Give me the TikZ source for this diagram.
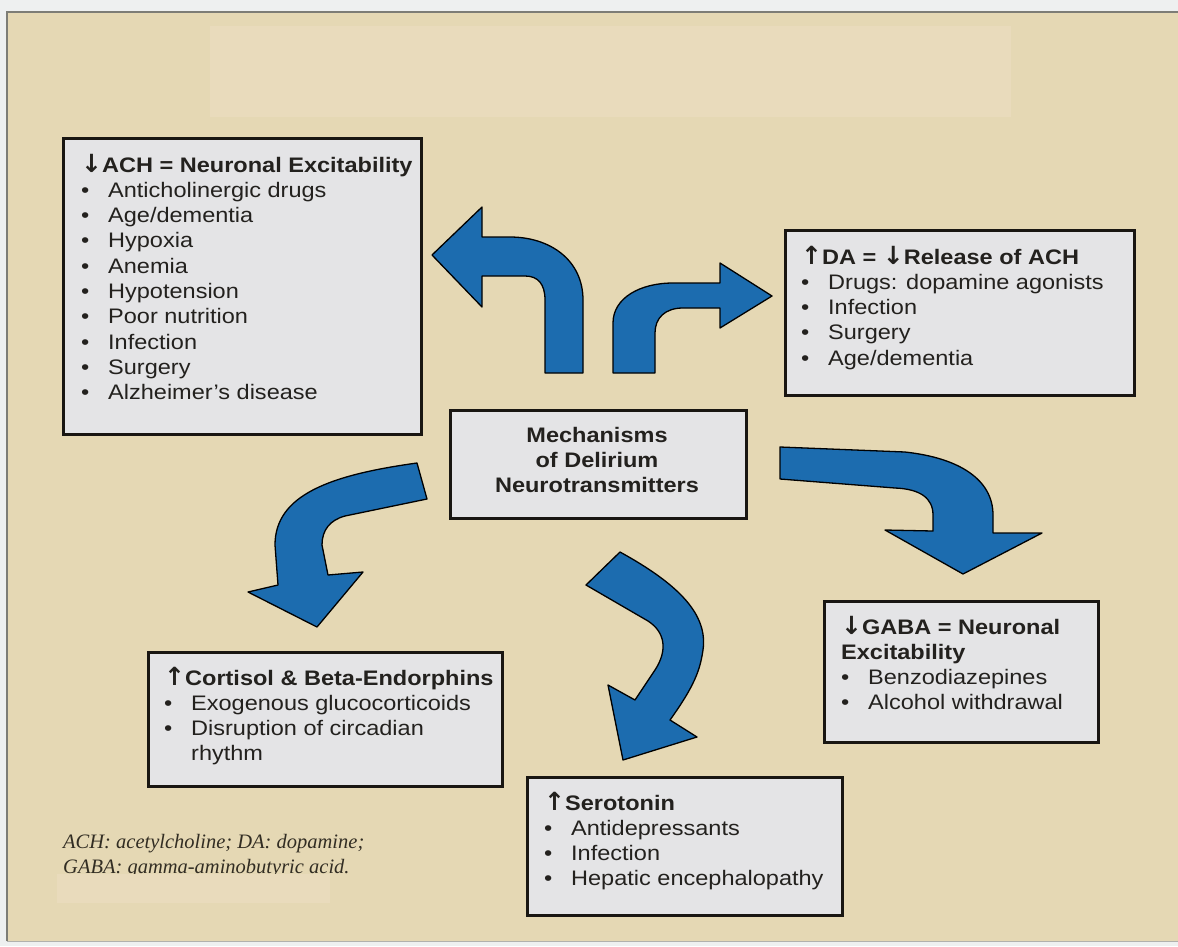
\documentclass[tikz,border=0pt]{standalone}
\usepackage{fontspec}
\setmainfont{Liberation Sans}[FakeStretch=1.12]
\newfontfamily\arrowfont{DejaVu Sans}
\newfontfamily\notefont{Liberation Serif}
\definecolor{outerbg}{RGB}{238,240,240}
\definecolor{framegray}{RGB}{125,125,118}
\definecolor{panel}{RGB}{229,216,180}
\definecolor{lightpatch}{RGB}{233,219,188}
\definecolor{boxfill}{RGB}{228,228,230}
\definecolor{boxline}{RGB}{25,22,18}
\definecolor{textcol}{RGB}{35,33,30}
\definecolor{notecol}{RGB}{50,45,35}
\definecolor{arrowblue}{RGB}{28,108,175}
\newcommand\myup{{\arrowfont\fontsize{25}{25}\selectfont ↑}}
\newcommand\mydown{{\arrowfont\fontsize{25}{25}\selectfont ↓}}
\newcommand\itm[1]{\makebox[27pt][l]{\textbullet}#1}
\begin{document}
\begin{tikzpicture}[x=1pt,y=-1pt,
  box/.style={draw=boxline, line width=2.6pt, fill=boxfill, inner sep=0pt, anchor=north west},
  txt/.style={anchor=base west, inner sep=0pt, text=textcol, font=\fontsize{21}{25.3}\selectfont},
  ctxt/.style={anchor=base, inner sep=0pt, text=textcol, font=\fontsize{21}{25}\selectfont\bfseries},
  barrow/.style={fill=arrowblue, draw=black, line width=1.3pt, line join=round}]
\useasboundingbox (0,0) rectangle (1178,946);
\fill[outerbg] (0,0) rectangle (1178,946);
\fill[panel] (7,12) rectangle (1178,941);
\draw[framegray, line width=2pt] (7,941) -- (7,12) -- (1178,12);
\draw[framegray!60, line width=1pt] (7,941) -- (1178,941);
\fill[lightpatch] (210,26) rectangle (1011,117);

% boxes
\node[box, minimum width=358pt, minimum height=296pt] (ach) at (62,137) {};
\node[box, minimum width=349pt, minimum height=165pt] (da) at (784,229) {};
\node[box, minimum width=296pt, minimum height=108pt] (mech) at (449,409) {};
\node[box, minimum width=274pt, minimum height=141pt] (gaba) at (823,600) {};
\node[box, minimum width=354pt, minimum height=134pt] (cort) at (147,651) {};
\node[box, minimum width=315pt, minimum height=138pt] (sero) at (526,776) {};

% texts
\node[txt] (achtxt) at (81,172) {\begin{tabular}[t]{@{}l@{}}
\textbf{\mydown ACH = Neuronal Excitability}\\
\itm{Anticholinergic drugs}\\
\itm{Age/dementia}\\
\itm{Hypoxia}\\
\itm{Anemia}\\
\itm{Hypotension}\\
\itm{Poor nutrition}\\
\itm{Infection}\\
\itm{Surgery}\\
\itm{Alzheimer’s disease}
\end{tabular}};
\node[txt] (datxt) at (801,264) {\begin{tabular}[t]{@{}l@{}}
\textbf{\myup DA = \mydown Release of ACH}\\
\itm{Drugs: dopamine agonists}\\
\itm{Infection}\\
\itm{Surgery}\\
\itm{Age/dementia}
\end{tabular}};
\node[ctxt] (mechtxt) at (597,442) {\begin{tabular}[t]{@{}c@{}}
Mechanisms\\ of Delirium\\ Neurotransmitters
\end{tabular}};
\node[txt] (gabatxt) at (841,634) {\begin{tabular}[t]{@{}l@{}}
\textbf{\mydown GABA = Neuronal}\\
\textbf{Excitability}\\
\itm{Benzodiazepines}\\
\itm{Alcohol withdrawal}
\end{tabular}};
\node[txt] (corttxt) at (164,685) {\begin{tabular}[t]{@{}l@{}}
\textbf{\myup Cortisol \& Beta-Endorphins}\\
\itm{Exogenous glucocorticoids}\\
\itm{Disruption of circadian}\\
\hspace*{27pt}rhythm
\end{tabular}};
\node[txt] (serotxt) at (544,810) {\begin{tabular}[t]{@{}l@{}}
\textbf{\myup Serotonin}\\
\itm{Antidepressants}\\
\itm{Infection}\\
\itm{Hepatic encephalopathy}
\end{tabular}};

% footnote
\node[anchor=base west, inner sep=0pt, text=notecol, font=\notefont\itshape\fontsize{20.5}{25}\selectfont] (note) at (63,848) {\begin{tabular}[t]{@{}l@{}}
ACH: acetylcholine; DA: dopamine;\\
GABA: gamma-aminobutyric acid.
\end{tabular}};
\fill[lightpatch] (57,874) rectangle (330,903);

% block arrows
% A: up-left to ACH
\draw[barrow] (545,373) -- (545,300) .. controls (545,284) and (538,276) .. (525,276)
  -- (482,276) -- (482,307) -- (432,255) -- (482,207) -- (482,237) -- (510,237)
  .. controls (550,237) and (583,260) .. (583,300) -- (583,373) -- cycle;
% B: up-right to DA
\draw[barrow] (613,373) -- (613,323) .. controls (613,298) and (640,283) .. (673,283)
  -- (720,283) -- (720,263) -- (772,296) -- (720,328) -- (720,308) -- (683,308)
  .. controls (665,308) and (655,318) .. (655,333) -- (655,373) -- cycle;
% C: down-right to GABA
\draw[barrow] (780,447) -- (905,452) .. controls (960,458) and (993,480) .. (993,515)
  -- (993,533) -- (1042,533) -- (963,574) -- (885,530) -- (933,531) -- (933,515)
  .. controls (933,498) and (920,489) .. (895,488) -- (780,479) -- cycle;
% D: down-left to Cortisol
\draw[barrow] (417,463) .. controls (330,475) and (275,495) .. (275,545) -- (278,585)
  -- (248,592) -- (317,627) -- (363,572) -- (328,575) -- (322,545)
  .. controls (322,530) and (330,520) .. (345,516) -- (427,499) -- cycle;
% E: down to Serotonin
\draw[barrow] (620,552) .. controls (680,585) and (708,615) .. (703,650)
  .. controls (700,670) and (695,685) .. (670,720) -- (697,737) -- (623,760)
  -- (608,685) -- (635,700) -- (655,670) .. controls (668,650) and (665,632) .. (648,621)
  -- (586,585) -- cycle;
\end{tikzpicture}
\end{document}
